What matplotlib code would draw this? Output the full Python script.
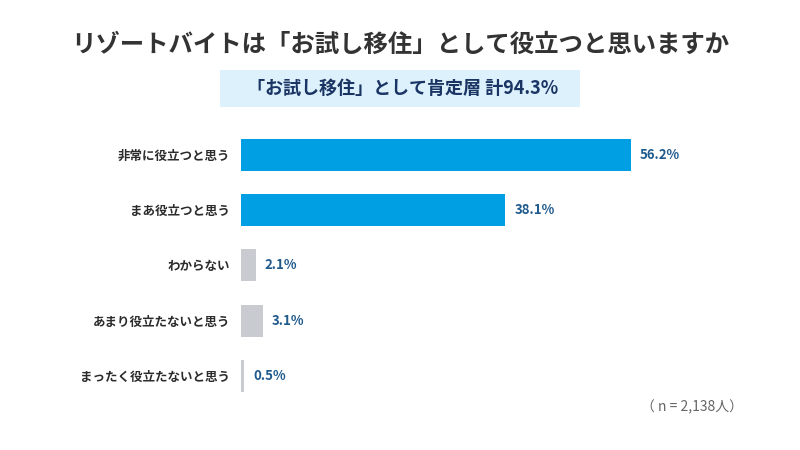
import matplotlib
matplotlib.use("Agg")
import matplotlib.pyplot as plt
from matplotlib.patches import Rectangle

plt.rcParams['font.family'] = ['Noto Sans CJK JP', 'DejaVu Sans']

categories = ["非常に役立つと思う", "まあ役立つと思う", "わからない", "あまり役立たないと思う", "まったく役立たないと思う"]
values = [56.2, 38.1, 2.1, 3.1, 0.5]
value_labels = ["56.2%", "38.1%", "2.1%", "3.1%", "0.5%"]
title = "リゾートバイトは「お試し移住」として役立つと思いますか"
subtitle = "「お試し移住」として肯定層 計94.3%"
note = "（ n = 2,138人）"

bar_colors = ["#009FE3", "#009FE3", "#C8CBD0", "#C8CBD0", "#C8CBD0"]

fig = plt.figure(figsize=(8, 4.5), dpi=100)
W, H = 800, 450

ax = fig.add_axes([241 / W, 1 - 403.6 / H, 500 / W, 276.25 / H])
ypos = list(range(len(categories)))
ax.barh(ypos, values, height=0.58, color=bar_colors)
ax.set_xlim(0, 500 / 6.94)
ax.set_ylim(4.5, -0.5)
ax.set_yticks(ypos)
ax.set_yticklabels(categories, fontsize=9, fontweight='bold', color='#2B2B2B')
ax.tick_params(axis='y', length=0, pad=8)
ax.set_xticks([])
for s in ax.spines.values():
    s.set_visible(False)

for y, v, lab in zip(ypos, values, value_labels):
    ax.text(v + 1.3, y, lab, va='center', ha='left', fontsize=9.5,
            fontweight='bold', color='#1F5A8C')

fig.text(400 / W, 1 - 45 / H, title, ha='center', va='center', fontsize=17.6,
         fontweight='bold', color='#333333')

fig.patches.append(Rectangle((220 / W, 1 - 107 / H), 360 / W, 37 / H,
                             transform=fig.transFigure, facecolor='#DDF1FC',
                             edgecolor='none'))
fig.text(403 / W, 1 - 88.5 / H, subtitle, ha='center', va='center', fontsize=13,
         fontweight='bold', color='#1A3564')

fig.text(743 / W, 1 - 407 / H, note, ha='right', va='center', fontsize=10,
         color='#666666')

fig.savefig("out.png", dpi=100, facecolor='white')
